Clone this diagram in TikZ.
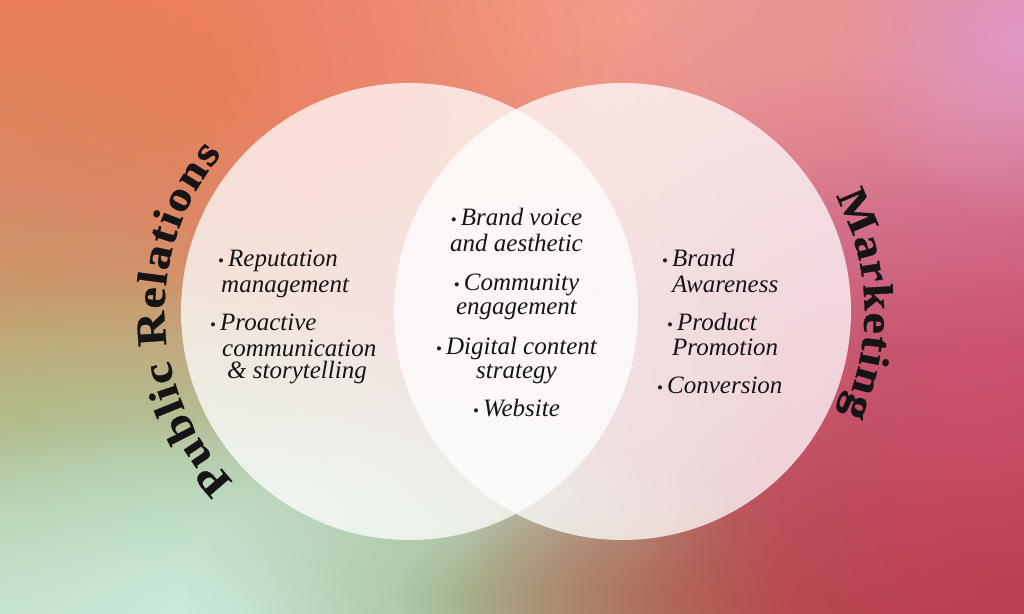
\documentclass[tikz,border=0pt]{standalone}
\usepackage{fontspec}
\setmainfont{Liberation Serif}
\newfontfamily\titlefont{Liberation Serif}[FakeStretch=1.14, FakeBold=0.8]
\usetikzlibrary{fadings,shadings,decorations.text}
\definecolor{ink}{RGB}{22,20,20}
\definecolor{cUL}{RGB}{232,120,88}
\definecolor{cUR}{RGB}{218,140,180}
\definecolor{cLL}{RGB}{200,236,222}
\definecolor{cLR}{RGB}{178,55,65}
\definecolor{bSalmon}{RGB}{248,168,148}
\definecolor{bCoral}{RGB}{235,125,90}
\definecolor{bTan}{RGB}{212,138,98}
\definecolor{bOlive}{RGB}{186,170,110}
\definecolor{bGreen}{RGB}{170,205,165}
\definecolor{bMint}{RGB}{205,238,225}
\definecolor{bGreenMid}{RGB}{165,195,155}
\definecolor{bBrown}{RGB}{165,140,100}
\definecolor{bRedBrown}{RGB}{185,82,80}
\definecolor{bRed}{RGB}{178,55,65}
\definecolor{bPinkRed}{RGB}{203,82,112}
\definecolor{bPink}{RGB}{215,122,150}
\definecolor{bLav}{RGB}{224,152,198}
\definecolor{bTopPink}{RGB}{235,150,145}
\tikzfading[name=blob, inner color=transparent!0, outer color=transparent!100]
\newcommand{\bul}{\makebox[10pt][l]{\upshape\fontsize{17}{17}\selectfont •}}
\newcommand{\ttl}{\titlefont\bfseries\fontsize{42}{42}\selectfont\color{ink}}
\tikzset{
  blobfill/.style={fill=#1, path fading=blob},
  circ/.style={circle, fill=white, fill opacity=0.75, draw=none, minimum size=457pt, inner sep=0pt},
  item/.style={inner sep=0pt, text=ink, font=\itshape\fontsize{25}{25}\selectfont},
  itemL/.style={item, anchor=base west},
  itemC/.style={item, anchor=base},
}
\begin{document}
\begin{tikzpicture}[x=1pt,y=1pt]
\useasboundingbox (0,0) rectangle (1024,613);
\clip (0,0) rectangle (1024,613);
% background
\shade[upper left=cUL, upper right=cUR, lower left=cLL, lower right=cLR] (0,0) rectangle (1024,613);
\fill[blobfill=bSalmon] (620,593) ellipse (660 and 280);
\fill[blobfill=bCoral] (150,533) ellipse (600 and 400);
\fill[blobfill=bTan] (40,353) ellipse (300 and 260);
\fill[blobfill=bOlive] (30,193) ellipse (340 and 220);
\fill[blobfill=bGreen] (150,93) ellipse (500 and 240);
\fill[blobfill=bMint] (250,3) ellipse (600 and 200);
\fill[blobfill=bGreenMid] (480,13) ellipse (300 and 140);
\fill[blobfill=bBrown] (660,13) ellipse (260 and 120);
\fill[blobfill=bRedBrown] (850,13) ellipse (400 and 200);
\fill[blobfill=bRed] (1000,53) ellipse (360 and 300);
\fill[blobfill=bPinkRed] (980,283) ellipse (340 and 400);
\fill[blobfill=bPink] (950,493) ellipse (340 and 240);
\fill[blobfill=bTopPink] (820,583) ellipse (300 and 180);
\fill[blobfill=bLav] (1024,573) ellipse (200 and 180);
% circles
\node[circ] (L) at (409.5,301.5) {};
\node[circ] (R) at (622.5,301.5) {};
% curved titles
\path[decorate, decoration={text along path, text align={fit to path},
  text={|\ttl|Public Relations}}]
  ([shift={(409.5,301.5)}]224:245) arc[start angle=224, end angle=140, radius=245];
\path[decorate, decoration={text along path, text align={fit to path},
  text={|\ttl|Marketing}}]
  ([shift={(622.5,301.5)}]28.5:242) arc[start angle=28.5, end angle=-25, radius=242];
% left items
\node[itemL] (l1) at (218,346) {\bul Reputation};
\node[itemL] (l2) at (221,320) {management};
\node[itemL] (l3) at (210,282) {\bul Proactive};
\node[itemL] (l4) at (222,256) {communication};
\node[itemL] (l5) at (227,234) {\& storytelling};
% centre items
\node[itemC] (c1) at (516.5,387) {\bul Brand voice};
\node[itemC] (c2) at (516.5,361) {and aesthetic};
\node[itemC] (c3) at (516.5,322) {\bul Community};
\node[itemC] (c4) at (516.5,298) {engagement};
\node[itemC] (c5) at (516.5,258) {\bul Digital content};
\node[itemC] (c6) at (516.5,234) {strategy};
\node[itemC] (c7) at (516.5,196) {\bul Website};
% right items
\node[itemL] (r1) at (662,346) {\bul Brand};
\node[itemL] (r2) at (672,320) {Awareness};
\node[itemL] (r3) at (667,282) {\bul Product};
\node[itemL] (r4) at (672,257) {Promotion};
\node[itemL] (r5) at (657,219) {\bul Conversion};
\end{tikzpicture}
\end{document}
